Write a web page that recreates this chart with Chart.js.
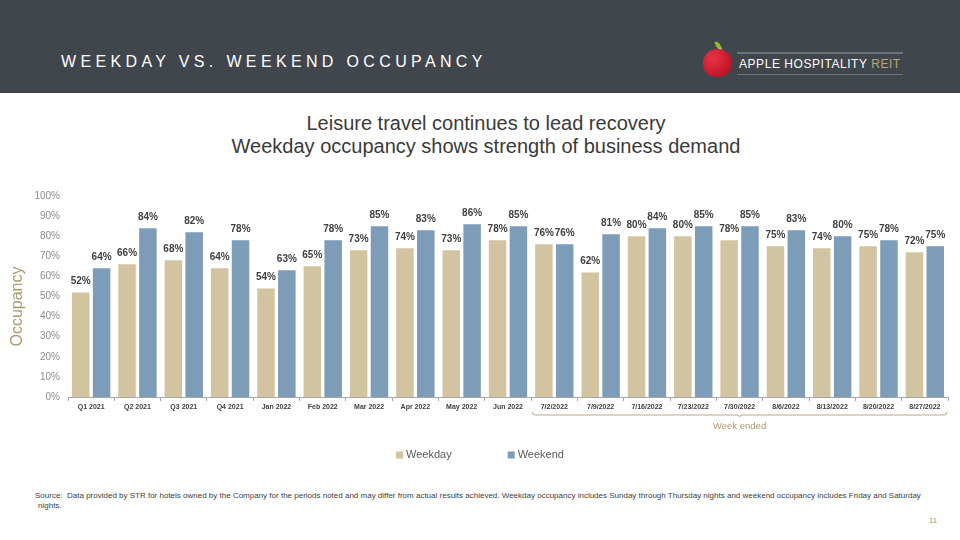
<!DOCTYPE html>
<html><head><meta charset="utf-8">
<script src="https://cdn.jsdelivr.net/npm/chart.js@4.4.0/dist/chart.umd.min.js"></script>
<style>
html,body{margin:0;padding:0;width:960px;height:540px;overflow:hidden;background:#fff;font-family:"Liberation Sans",Arial,sans-serif;}
#header{position:absolute;left:0;top:0;width:960px;height:93px;background:#41464d;}
#title{position:absolute;left:61px;top:52px;color:#fff;font-size:16px;letter-spacing:4.35px;white-space:nowrap;line-height:20px;}
#apple{position:absolute;left:703px;top:49px;width:29px;height:28px;border-radius:50% 50% 48% 48%;background:radial-gradient(circle at 35% 35%,#e8344a 0%,#c8182c 60%,#a01020 100%);}
#leaf{position:absolute;left:716px;top:41px;width:5px;height:10px;background:#9ab33a;border-radius:0 80% 0 80%;transform:rotate(-20deg);}
#logoline1{position:absolute;left:737px;top:52px;width:166px;height:2px;background:#6f7378;}
#logoline2{position:absolute;left:737px;top:74px;width:166px;height:1px;background:#6f7378;}
#logotext{position:absolute;left:739px;top:57px;color:#fff;font-size:12px;letter-spacing:0.55px;white-space:nowrap;line-height:15px;}
#logotext span{color:#b9a77c;}
#sub{position:absolute;left:0;top:112px;width:972px;text-align:center;color:#3a3a3a;font-size:20px;line-height:23px;}
#chartbox{position:absolute;left:0;top:180px;width:960px;height:300px;}
#foot{position:absolute;left:35px;top:491px;width:900px;color:#404040;font-size:8px;line-height:10px;white-space:nowrap;}
#page{position:absolute;left:929px;top:516px;color:#b09a6c;font-size:8px;}
</style></head>
<body>
<div id="header">
  <div id="title">WEEKDAY VS. WEEKEND OCCUPANCY</div>
  <div id="leaf"></div><div id="apple"></div>
  <div id="logoline1"></div><div id="logoline2"></div>
  <div id="logotext">APPLE HOSPITALITY <span>REIT</span></div>
</div>
<div id="sub">Leisure travel continues to lead recovery<br>Weekday occupancy shows strength of business demand</div>
<div id="chartbox"><canvas id="c" width="960" height="300"></canvas></div>
<div id="foot">Source:&nbsp; Data provided by STR for hotels owned by the Company for the periods noted and may differ from actual results achieved. Weekday occupancy includes Sunday through Thursday nights and weekend occupancy includes Friday and Saturday<br><span style="padding-left:3px">nights.</span></div>
<div id="page">11</div>
<script>
const categories = ["Q1 2021","Q2 2021","Q3 2021","Q4 2021","Jan 2022","Feb 2022","Mar 2022","Apr 2022","May 2022","Jun 2022","7/2/2022","7/9/2022","7/16/2022","7/23/2022","7/30/2022","8/6/2022","8/13/2022","8/20/2022","8/27/2022"];
const weekday = [52,66,68,64,54,65,73,74,73,78,76,62,80,80,78,75,74,75,72];
const weekend = [64,84,82,78,63,78,85,83,86,85,76,81,84,85,85,83,80,78,75];
const seriesNames = ["Weekday","Weekend"];
const yTicks = [0,10,20,30,40,50,60,70,80,90,100];
const weekStartIndex = 10;
const bracketLabel = "Week ended";
const axisTitle = "Occupancy";

const colors = ["#d3c4a1","#7c9cb8"];
const FONT = '"Liberation Sans", Arial, sans-serif';

const extras = {
  id:'extras',
  afterDatasetsDraw(chart){
    const ctx = chart.ctx;
    ctx.save();
    ctx.font = 'bold 10px ' + FONT;
    ctx.fillStyle = '#404040';
    ctx.textAlign = 'center';
    ctx.textBaseline = 'middle';
    chart.data.datasets.forEach((ds,i)=>{
      chart.getDatasetMeta(i).data.forEach((bar,j)=>{
        ctx.fillText(ds.data[j] + '%', bar.x, bar.y - 11);
      });
    });
    ctx.restore();
  },
  afterDraw(chart){
    const ctx = chart.ctx, x = chart.scales.x, ca = chart.chartArea;
    ctx.save();
    ctx.font = '16px ' + FONT;
    ctx.fillStyle = '#ab9a70';
    ctx.textAlign = 'center';
    ctx.textBaseline = 'middle';
    ctx.translate(18, (ca.top + ca.bottom)/2 + 10);
    ctx.rotate(-Math.PI/2);
    ctx.fillText(axisTitle, 0, 0);
    ctx.restore();
    ctx.save();
    const half = (x.getPixelForValue(1) - x.getPixelForValue(0))/2;
    const x0 = x.getPixelForValue(weekStartIndex) - half + 1;
    const x1 = x.getPixelForValue(categories.length-1) + half - 1;
    const y = ca.bottom + 18;
    const xm = (x0 + x1)/2;
    ctx.strokeStyle = '#b8a887';
    ctx.lineWidth = 1;
    ctx.beginPath();
    ctx.moveTo(x0, y-3); ctx.quadraticCurveTo(x0, y, x0+3, y);
    ctx.lineTo(xm-3, y); ctx.quadraticCurveTo(xm, y, xm, y+2);
    ctx.quadraticCurveTo(xm, y, xm+3, y);
    ctx.lineTo(x1-3, y); ctx.quadraticCurveTo(x1, y, x1, y-3);
    ctx.stroke();
    ctx.font = '9.5px ' + FONT;
    ctx.fillStyle = '#ab9a70';
    ctx.textAlign = 'center';
    ctx.textBaseline = 'middle';
    ctx.fillText(bracketLabel, xm, y + 11);
    ctx.font = '11px ' + FONT;
    const box = 7, gapText = 3, gapItems = 56;
    const widths = seriesNames.map(n => box + gapText + ctx.measureText(n).width);
    const total = widths.reduce((a,b)=>a+b,0) + gapItems*(widths.length-1);
    let lx = chart.width/2 - total/2;
    const ly = ca.bottom + 58;
    ctx.textAlign = 'left';
    seriesNames.forEach((n,i)=>{
      ctx.fillStyle = colors[i];
      ctx.fillRect(lx, ly - box/2, box, box);
      ctx.fillStyle = '#595959';
      ctx.fillText(n, lx + box + gapText, ly);
      lx += widths[i] + gapItems;
    });
    ctx.restore();
  }
};

new Chart(document.getElementById('c'), {
  type:'bar',
  data:{
    labels: categories,
    datasets:[
      {label:seriesNames[0], data:weekday, backgroundColor:colors[0], categoryPercentage:0.9, barPercentage:0.84},
      {label:seriesNames[1], data:weekend, backgroundColor:colors[1], categoryPercentage:0.9, barPercentage:0.84}
    ]
  },
  options:{
    responsive:false,
    animation:false,
    layout:{padding:{top:16,right:12,left:0,bottom:0}},
    plugins:{legend:{display:false}, tooltip:{enabled:false}},
    scales:{
      y:{
        min:0,max:100,
        afterFit(s){ s.width = 68; },
        afterBuildTicks(s){ s.ticks = yTicks.map(v=>({value:v})); },
        grid:{display:false, drawTicks:false},
        border:{display:false},
        ticks:{padding:8, color:'#8c8c8c', font:{family:FONT, size:10}, callback:v=>v+'%'}
      },
      x:{
        afterFit(s){ s.height = 83; },
        grid:{display:true, drawOnChartArea:false, offset:true, tickLength:4, color:'#a6a6a6'},
        border:{display:true, color:'#a6a6a6'},
        ticks:{padding:2, color:'#404040', maxRotation:0, autoSkip:false, font:{family:FONT, size:7, weight:'bold'}}
      }
    }
  },
  plugins:[extras]
});
</script>
</body></html>
